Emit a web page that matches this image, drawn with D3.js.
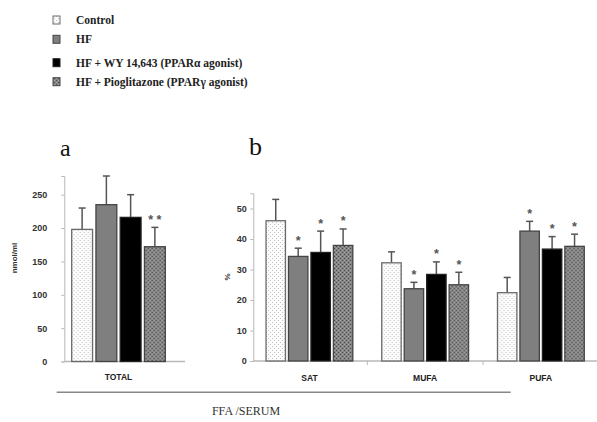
<!DOCTYPE html>
<html>
<head>
<meta charset="utf-8">
<script src="https://cdn.jsdelivr.net/npm/d3@7"></script>
<style>
  html, body { margin: 0; padding: 0; background: #fff; }
  svg { display: block; }
</style>
</head>
<body>
<script>
// ---------------- DATA ----------------
const groups = ["Control", "HF", "HF + WY 14,643 (PPARα agonist)", "HF + Pioglitazone (PPARγ agonist)"];
const totalCategory = ["TOTAL"];
const totalValues = [198, 235, 216, 172];
const totalErrors = [32, 43, 34, 29];
const totalStars = ["", "", "", "* *"];
const totalTicks = [0, 50, 100, 150, 200, 250];

const fattyCategories = ["SAT", "MUFA", "PUFA"];
const satValues = [46.0, 34.3, 35.6, 37.9];
const satErrors = [7.0, 2.7, 7.0, 5.4];
const mufaValues = [32.2, 23.7, 28.4, 25.0];
const mufaErrors = [3.6, 2.1, 4.1, 4.1];
const pufaValues = [22.4, 42.6, 36.7, 37.6];
const pufaErrors = [5.0, 3.2, 4.1, 4.0];
const fattyStars = ["", "*", "*", "*"];
const percentTicks = [0, 10, 20, 30, 40, 50];

const panelLabels = ["a", "b"];
const yLabelA = "nmol/ml";
const yLabelB = "%";
const footerLabel = "FFA /SERUM";

// ---------------- SETUP ----------------
const W = 597, H = 422;
const svg = d3.select("body").append("svg").attr("width", W).attr("height", H);
const defs = svg.append("defs");

// patterns
const pCtrl = defs.append("pattern").attr("id", "pCtrl").attr("width", 4).attr("height", 4).attr("patternUnits", "userSpaceOnUse");
pCtrl.append("rect").attr("width", 4).attr("height", 4).attr("fill", "#fbfbfb");
pCtrl.append("rect").attr("x", 0).attr("y", 0).attr("width", 1).attr("height", 1).attr("fill", "#c4c4c4");
pCtrl.append("rect").attr("x", 2).attr("y", 2).attr("width", 1).attr("height", 1).attr("fill", "#c4c4c4");

const pPio = defs.append("pattern").attr("id", "pPio").attr("width", 4).attr("height", 4).attr("patternUnits", "userSpaceOnUse");
pPio.append("rect").attr("width", 4).attr("height", 4).attr("fill", "#858585");
pPio.append("rect").attr("x", 0).attr("y", 0).attr("width", 1).attr("height", 1).attr("fill", "#4a4a4a");
pPio.append("rect").attr("x", 2).attr("y", 2).attr("width", 1).attr("height", 1).attr("fill", "#4a4a4a");
pPio.append("rect").attr("x", 2).attr("y", 0).attr("width", 1).attr("height", 1).attr("fill", "#a8a8a8");
pPio.append("rect").attr("x", 0).attr("y", 2).attr("width", 1).attr("height", 1).attr("fill", "#a8a8a8");

const fills = ["url(#pCtrl)", "#7f7f7f", "#000000", "url(#pPio)"];
const strokes = ["#6a6a6a", "#444", "#222", "#444"];
const color = d3.scaleOrdinal().domain(groups).range(fills);
const strokeColor = d3.scaleOrdinal().domain(groups).range(strokes);

const axisGray = "#b8b8b8";
const tickFont = "Liberation Sans, Arial, sans-serif";
const serifFont = "Liberation Serif, Times New Roman, serif";

// ---------------- LEGEND ----------------
const legendYs = [20, 39.3, 62.7, 81.7];
const legend = svg.append("g");
groups.forEach((g, i) => {
  const y = legendYs[i];
  legend.append("rect").attr("x", 53).attr("y", y - 4).attr("width", 7).attr("height", 8)
    .attr("fill", color(g)).attr("stroke", strokeColor(g)).attr("stroke-width", 1);
  legend.append("text").attr("x", 76).attr("y", y).attr("dy", "0.35em")
    .attr("font-family", serifFont).attr("font-weight", "bold").attr("font-size", 11.5)
    .attr("fill", "#222").text(g);
});

// ---------------- helper ----------------
function drawBars(g, x0, x1, y, cat, values, errors, stars) {
  const grp = g.append("g").attr("transform", `translate(${x0(cat)},0)`);
  groups.forEach((s, i) => {
    const v = values[i], e = errors[i];
    const bx = x1(s), bw = x1.bandwidth(), cx = bx + bw / 2;
    grp.append("line").attr("x1", cx).attr("x2", cx).attr("y1", y(v)).attr("y2", y(v + e))
      .attr("stroke", "#555").attr("stroke-width", 1.5);
    grp.append("line").attr("x1", cx - 3.5).attr("x2", cx + 3.5).attr("y1", y(v + e)).attr("y2", y(v + e))
      .attr("stroke", "#555").attr("stroke-width", 1.5);
    grp.append("rect").attr("x", bx).attr("y", y(v)).attr("width", bw).attr("height", y(0) - y(v))
      .attr("fill", color(s)).attr("stroke", strokeColor(s)).attr("stroke-width", 1.3);
    if (stars[i]) {
      grp.append("text").attr("x", cx).attr("y", y(v + e) - 3.5).attr("text-anchor", "middle")
        .attr("font-family", tickFont).attr("font-weight", "bold").attr("font-size", 12.5)
        .attr("fill", "#555").text(stars[i]);
    }
  });
}

function yAxis(g, y, ticks, xPos, pad) {
  const ax = d3.axisLeft(y).tickValues(ticks).tickSize(3).tickPadding(pad);
  const a = g.append("g").attr("transform", `translate(${xPos},0)`).call(ax);
  a.select(".domain").attr("stroke", axisGray).attr("stroke-width", 1);
  a.selectAll(".tick line").attr("stroke", axisGray);
  a.selectAll(".tick text").attr("font-family", tickFont).attr("font-weight", "bold")
    .attr("font-size", 9).attr("fill", "#333");
  return a;
}

// ---------------- PANEL A ----------------
const gA = svg.append("g");
const yA = d3.scaleLinear().domain([0, 278]).range([361.5, 176]);
const xA0 = d3.scaleBand().domain(totalCategory).range([71.7, 165.3]).padding(0);
const xA1 = d3.scaleBand().domain(groups).range([0, xA0.bandwidth()]).paddingInner(0.14).paddingOuter(0);

yAxis(gA, yA, totalTicks, 64.3, 14);
gA.append("line").attr("x1", 64.3).attr("x2", 185).attr("y1", yA(0)).attr("y2", yA(0))
  .attr("stroke", axisGray).attr("stroke-width", 1.5);
drawBars(gA, xA0, xA1, yA, "TOTAL", totalValues, totalErrors, totalStars);
gA.append("text").attr("x", xA0("TOTAL") + xA0.bandwidth() / 2).attr("y", 377).attr("dy", "0.35em")
  .attr("text-anchor", "middle").attr("font-family", tickFont).attr("font-weight", "bold")
  .attr("font-size", 8.5).attr("fill", "#222").text("TOTAL");
gA.append("text").attr("transform", "translate(17,258) rotate(-90)").attr("text-anchor", "middle")
  .attr("font-family", tickFont).attr("font-weight", "bold").attr("font-size", 8)
  .attr("fill", "#333").text(yLabelA);
gA.append("text").attr("x", 60).attr("y", 156).attr("font-family", serifFont)
  .attr("font-size", 24).attr("fill", "#111").text(panelLabels[0]);

// ---------------- PANEL B ----------------
const gB = svg.append("g");
const yB = d3.scaleLinear().domain([0, 55]).range([361, 193.3]);
const xB0 = d3.scaleBand().domain(fattyCategories).range([253.3, 597]).paddingInner(0.25).paddingOuter(0.11);
const xB1 = d3.scaleBand().domain(groups).range([0, xB0.bandwidth()]).paddingInner(0.135).paddingOuter(0);

yAxis(gB, yB, percentTicks, 253.3, 3.5);
gB.append("line").attr("x1", 253.3).attr("x2", 597).attr("y1", yB(0)).attr("y2", yB(0))
  .attr("stroke", axisGray).attr("stroke-width", 1.5);
fattyCategories.slice(1).forEach(c => {
  const xs = xB0(c) - xB0.step() * xB0.paddingInner() / 2;
  gB.append("line").attr("x1", xs).attr("x2", xs).attr("y1", yB(0)).attr("y2", yB(0) + 4)
    .attr("stroke", axisGray).attr("stroke-width", 1);
});
const fattyValues = [satValues, mufaValues, pufaValues];
const fattyErrors = [satErrors, mufaErrors, pufaErrors];
fattyCategories.forEach((c, i) => {
  drawBars(gB, xB0, xB1, yB, c, fattyValues[i], fattyErrors[i], fattyStars);
  gB.append("text").attr("x", xB0(c) + xB0.bandwidth() / 2).attr("y", 378).attr("dy", "0.35em")
    .attr("text-anchor", "middle").attr("font-family", tickFont).attr("font-weight", "bold")
    .attr("font-size", 8.5).attr("fill", "#222").text(c);
});
gB.append("text").attr("transform", "translate(230,277) rotate(-90)").attr("text-anchor", "middle")
  .attr("font-family", tickFont).attr("font-weight", "bold").attr("font-size", 8)
  .attr("fill", "#333").text(yLabelB);
gB.append("text").attr("x", 249).attr("y", 155).attr("font-family", serifFont)
  .attr("font-size", 26).attr("fill", "#111").text(panelLabels[1]);

// ---------------- FOOTER ----------------
svg.append("line").attr("x1", 56.7).attr("x2", 510.7).attr("y1", 392.3).attr("y2", 392.3)
  .attr("stroke", "#888").attr("stroke-width", 1.5);
svg.append("text").attr("x", 246).attr("y", 411).attr("dy", "0.35em").attr("text-anchor", "middle")
  .attr("font-family", serifFont).attr("font-size", 12).attr("fill", "#333").text(footerLabel);
</script>
</body>
</html>
